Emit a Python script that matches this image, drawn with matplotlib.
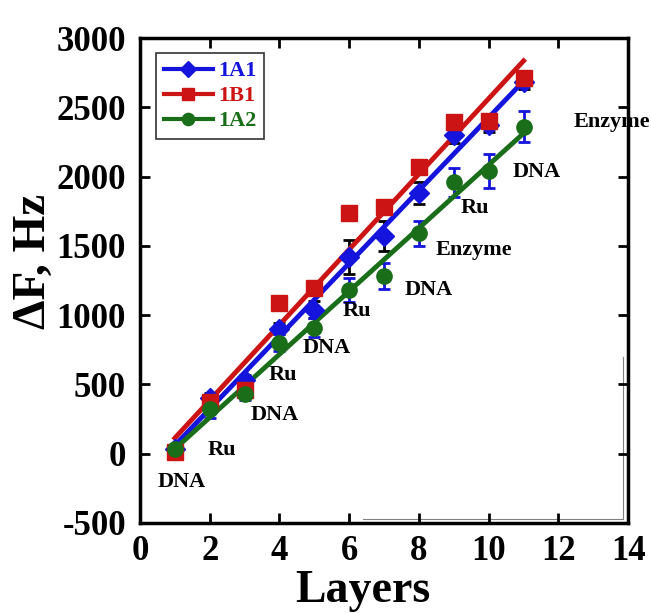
import numpy as np
import matplotlib
matplotlib.use("Agg")
import matplotlib.pyplot as plt

plt.rcParams['font.family'] = ['Liberation Serif', 'DejaVu Serif']
plt.rcParams['font.weight'] = 'bold'
plt.rcParams['axes.unicode_minus'] = False

layers = np.arange(1, 12)
a1 = [30, 400, 530, 900, 1040, 1420, 1570, 1880, 2300, 2370, 2680]
a1_err = [20, 40, 40, 40, 60, 125, 110, 80, 60, 50, 50]
b1 = [10, 372, 460, 1090, 1195, 1735, 1780, 2068, 2393, 2400, 2710]
a2 = [30, 320, 430, 800, 910, 1180, 1280, 1590, 1960, 2040, 2360]
a2_err = [20, 60, 40, 60, 70, 85, 95, 90, 105, 120, 110]

steps = ['DNA', 'Ru', 'DNA', 'Ru', 'DNA', 'Ru', 'DNA', 'Enzyme', 'Ru', 'DNA', 'Enzyme']
step_x = [1.2, 2.35, 3.87, 4.1, 5.36, 6.22, 8.29, 9.58, 9.6, 11.39, 13.54]
step_y = [-204, 27, 280, 566, 762, 1028, 1180, 1470, 1771, 2031, 2393]

c_blue = '#1414DC'
c_red = '#CC1414'
c_green = '#1A6E1A'

fig = plt.figure(figsize=(6.51, 6.13), dpi=100)
ax = fig.add_axes([0.215, 0.147, 0.75, 0.791])

def series(y, color, marker, ms, label, err=None, ecolor=None):
    if err is not None:
        ax.errorbar(layers, y, yerr=err, fmt='none', ecolor=ecolor,
                    elinewidth=2, capsize=4, capthick=2, zorder=2)
    k, b = np.polyfit(layers, y, 1)
    ax.plot(layers, k * layers + b, color=color, lw=3.5, zorder=3)
    ax.plot(layers, y, ls='none', marker=marker, color=color, ms=ms, zorder=4)
    return ax.plot([], [], color=color, lw=3, marker=marker, ms=ms * 0.8, label=label)[0]

h1 = series(a1, c_blue, 'D', 10, '1A1', a1_err, 'black')
h2 = series(b1, c_red, 's', 11, '1B1')
h3 = series(a2, c_green, 'o', 11, '1A2', a2_err, c_blue)

for t, x, y in zip(steps, step_x, step_y):
    ax.text(x, y, t, ha='center', va='center', fontsize=16, fontweight='bold')

# faint inner frame lines seen in the original scan
ax.plot([6.4, 13.85], [-470, -470], color='gray', lw=0.8, zorder=1)
ax.plot([13.85, 13.85], [-470, 700], color='gray', lw=0.8, zorder=1)

ax.set_xlim(0, 14)
ax.set_ylim(-500, 3000)
ax.set_xticks(range(0, 15, 2))
ax.set_yticks(range(-500, 3001, 500))
ax.tick_params(direction='in', length=7, width=2, labelsize=25, top=True, right=True)
ax.tick_params(axis='y', pad=10)
ax.tick_params(axis='x', pad=9)
for lab in ax.get_xticklabels() + ax.get_yticklabels():
    lab.set_fontweight('bold')
for s in ax.spines.values():
    s.set_linewidth(2.5)

ax.set_xlabel('Layers', fontsize=33, fontweight='bold')
ax.xaxis.set_label_coords(0.457, -0.097)
ax.set_ylabel('ΔF, Hz', fontsize=34, fontweight='bold')
ax.yaxis.set_label_coords(-0.175, 0.54)

leg = ax.legend(handles=[h1, h2, h3], loc='upper left', fontsize=16,
                handlelength=2.2, borderpad=0.35, labelspacing=0.2,
                handletextpad=0.25, fancybox=False, edgecolor='black',
                bbox_to_anchor=(0.01, 0.992))
leg.get_frame().set_linewidth(1.2)
for txt, c in zip(leg.get_texts(), [c_blue, c_red, c_green]):
    txt.set_color(c)
    txt.set_fontweight('bold')

fig.savefig('out.png', dpi=100)
